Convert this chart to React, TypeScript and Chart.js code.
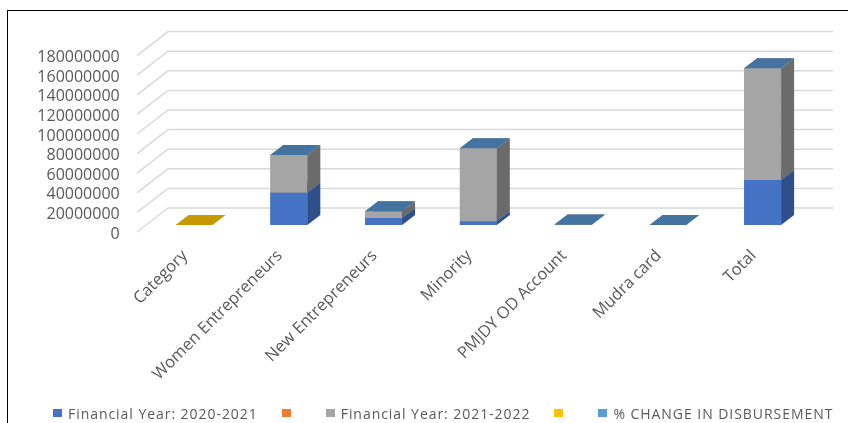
import React, { useEffect, useRef } from "react";
import { Chart, registerables } from "chart.js";

Chart.register(...registerables);

// ---------- data ----------
const categories = [
  "Category",
  "Women Entrepreneurs",
  "New Entrepreneurs",
  "Minority",
  "PMJDY OD Account",
  "Mudra card",
  "Total",
];
const seriesNames = [
  "Financial Year: 2020-2021",
  "",
  "Financial Year: 2021-2022",
  "",
  "% CHANGE IN DISBURSEMENT",
];
const fy2020_2021 = [0, 33000000, 7100000, 3800000, 300000, 0, 45900000];
const blankSeriesA = [0, 0, 0, 0, 0, 0, 0];
const fy2021_2022 = [0, 38400000, 6900000, 74500000, 200000, 0, 114000000];
const blankSeriesB = [1, 0, 0, 0, 0, 0, 0];
const pctChange = [0, 85.6, 45.2, 120.4, 30.1, 10.5, 98.7];
const yTicks = [0, 20000000, 40000000, 60000000, 80000000, 100000000, 120000000, 140000000, 160000000, 180000000];

// ---------- styles ----------
const frontColors = ["#4472C4", "#ED7D31", "#A5A5A5", "#FFC000", "#5B9BD5"];
const sideColors = ["#2E4F8A", "#B35E22", "#6B6B6B", "#BF9000", "#3E6F9C"];
const topColors = ["#3A64AE", "#D06A26", "#8E8E8E", "#C59A00", "#44739F"];
const TEXT = "#595959";
const GRID = "#D9D9D9";
const DEPTH_X = 13;
const DEPTH_Y = 10;

const wallPlugin = {
  id: "wall3d",
  beforeDatasetsDraw(chart: any) {
    const { ctx, chartArea } = chart;
    const y = chart.scales.y;
    ctx.save();
    ctx.strokeStyle = GRID;
    ctx.lineWidth = 1.5;
    yTicks.forEach((v) => {
      const py = y.getPixelForValue(v);
      ctx.beginPath();
      ctx.moveTo(chartArea.left - 9.7, py + 7);
      ctx.lineTo(chartArea.left + 21.3, py - 17);
      ctx.lineTo(chartArea.right + 23, py - 17);
      ctx.stroke();
    });
    ctx.restore();
  },
};

const barPlugin = {
  id: "bars3d",
  afterDatasetsDraw(chart: any) {
    const { ctx } = chart;
    const n = chart.data.labels.length;
    ctx.save();
    for (let i = 0; i < n; i++) {
      chart.data.datasets.forEach((ds: any, d: number) => {
        const v = ds.data[i];
        if (!v) return;
        const el = chart.getDatasetMeta(d).data[i];
        if (!el) return;
        const { x, y, base, width } = el.getProps(["x", "y", "base", "width"], true);
        const xl = x - width / 2;
        const xr = x + width / 2;
        const top = Math.min(y, base);
        const bot = Math.max(y, base);
        ctx.fillStyle = frontColors[d];
        ctx.fillRect(xl, top, width, bot - top);
        ctx.fillStyle = sideColors[d];
        ctx.beginPath();
        ctx.moveTo(xr, top);
        ctx.lineTo(xr + DEPTH_X, top - DEPTH_Y);
        ctx.lineTo(xr + DEPTH_X, bot - DEPTH_Y);
        ctx.lineTo(xr, bot);
        ctx.closePath();
        ctx.fill();
        ctx.fillStyle = topColors[d];
        ctx.beginPath();
        ctx.moveTo(xl, top);
        ctx.lineTo(xl + DEPTH_X, top - DEPTH_Y);
        ctx.lineTo(xr + DEPTH_X, top - DEPTH_Y);
        ctx.lineTo(xr, top);
        ctx.closePath();
        ctx.fill();
      });
    }
    ctx.restore();
  },
};

export default function App() {
  const ref = useRef<HTMLCanvasElement>(null);

  useEffect(() => {
    if (!ref.current) return;
    const seriesData = [fy2020_2021, blankSeriesA, fy2021_2022, blankSeriesB, pctChange];
    const chart = new Chart(ref.current, {
      type: "bar",
      data: {
        labels: categories,
        datasets: seriesData.map((data, i) => ({
          label: seriesNames[i],
          data,
          backgroundColor: frontColors[i],
          borderWidth: 0,
          barPercentage: 0.39,
          categoryPercentage: 1,
        })),
      },
      options: {
        animation: false,
        responsive: true,
        maintainAspectRatio: false,
        layout: { padding: { left: 0, right: 38, top: 37.6, bottom: 0 } },
        plugins: { legend: { display: false }, tooltip: { enabled: false } },
        scales: {
          x: {
            stacked: true,
            grid: { display: false },
            border: { display: false },
            ticks: {
              color: TEXT,
              font: { family: "'Open Sans'", size: 16.5 },
              minRotation: 45,
              maxRotation: 45,
              padding: 13,
              labelOffset: -9,
            },
            afterFit: (s: any) => {
              s.height = 198;
            },
          },
          y: {
            stacked: true,
            min: 0,
            max: 180000000,
            grid: { display: false, drawTicks: false },
            border: { display: false },
            afterBuildTicks: (s: any) => {
              s.ticks = yTicks.map((v) => ({ value: v }));
            },
            ticks: {
              autoSkip: false,
              color: TEXT,
              font: { family: "'Open Sans'", size: 16 },
              padding: 27,
              labelOffset: 9,
              callback: (v: any) => String(v),
            },
            afterFit: (s: any) => {
              s.width = 138.7;
            },
          },
        },
      },
      plugins: [wallPlugin, barPlugin],
    });
    return () => chart.destroy();
  }, []);

  return (
    <div
      style={{
        position: "absolute",
        left: 7,
        top: 10,
        width: 841,
        height: 413,
        boxSizing: "border-box",
        borderLeft: "1.5px solid #000",
        borderTop: "1.5px solid #000",
        overflow: "hidden",
      }}
    >
      <div style={{ position: "relative", width: 840, height: 412 }}>
        <canvas ref={ref} />
        <div
          style={{
            position: "absolute",
            left: 45,
            top: 392,
            height: 20,
            display: "flex",
            alignItems: "center",
            fontFamily: "'Open Sans'",
            fontSize: 14,
            letterSpacing: "0.95px",
            color: TEXT,
            whiteSpace: "nowrap",
          }}
        >
          {seriesNames.map((name, i) => (
            <div key={i} style={{ display: "flex", alignItems: "center", marginRight: name ? 24 : 25 }}>
              <span
                style={{
                  display: "inline-block",
                  width: 9,
                  height: 8,
                  background: frontColors[i],
                  marginRight: name ? 6 : 10,
                }}
              />
              {name ? <span>{name}</span> : null}
            </div>
          ))}
        </div>
      </div>
    </div>
  );
}
